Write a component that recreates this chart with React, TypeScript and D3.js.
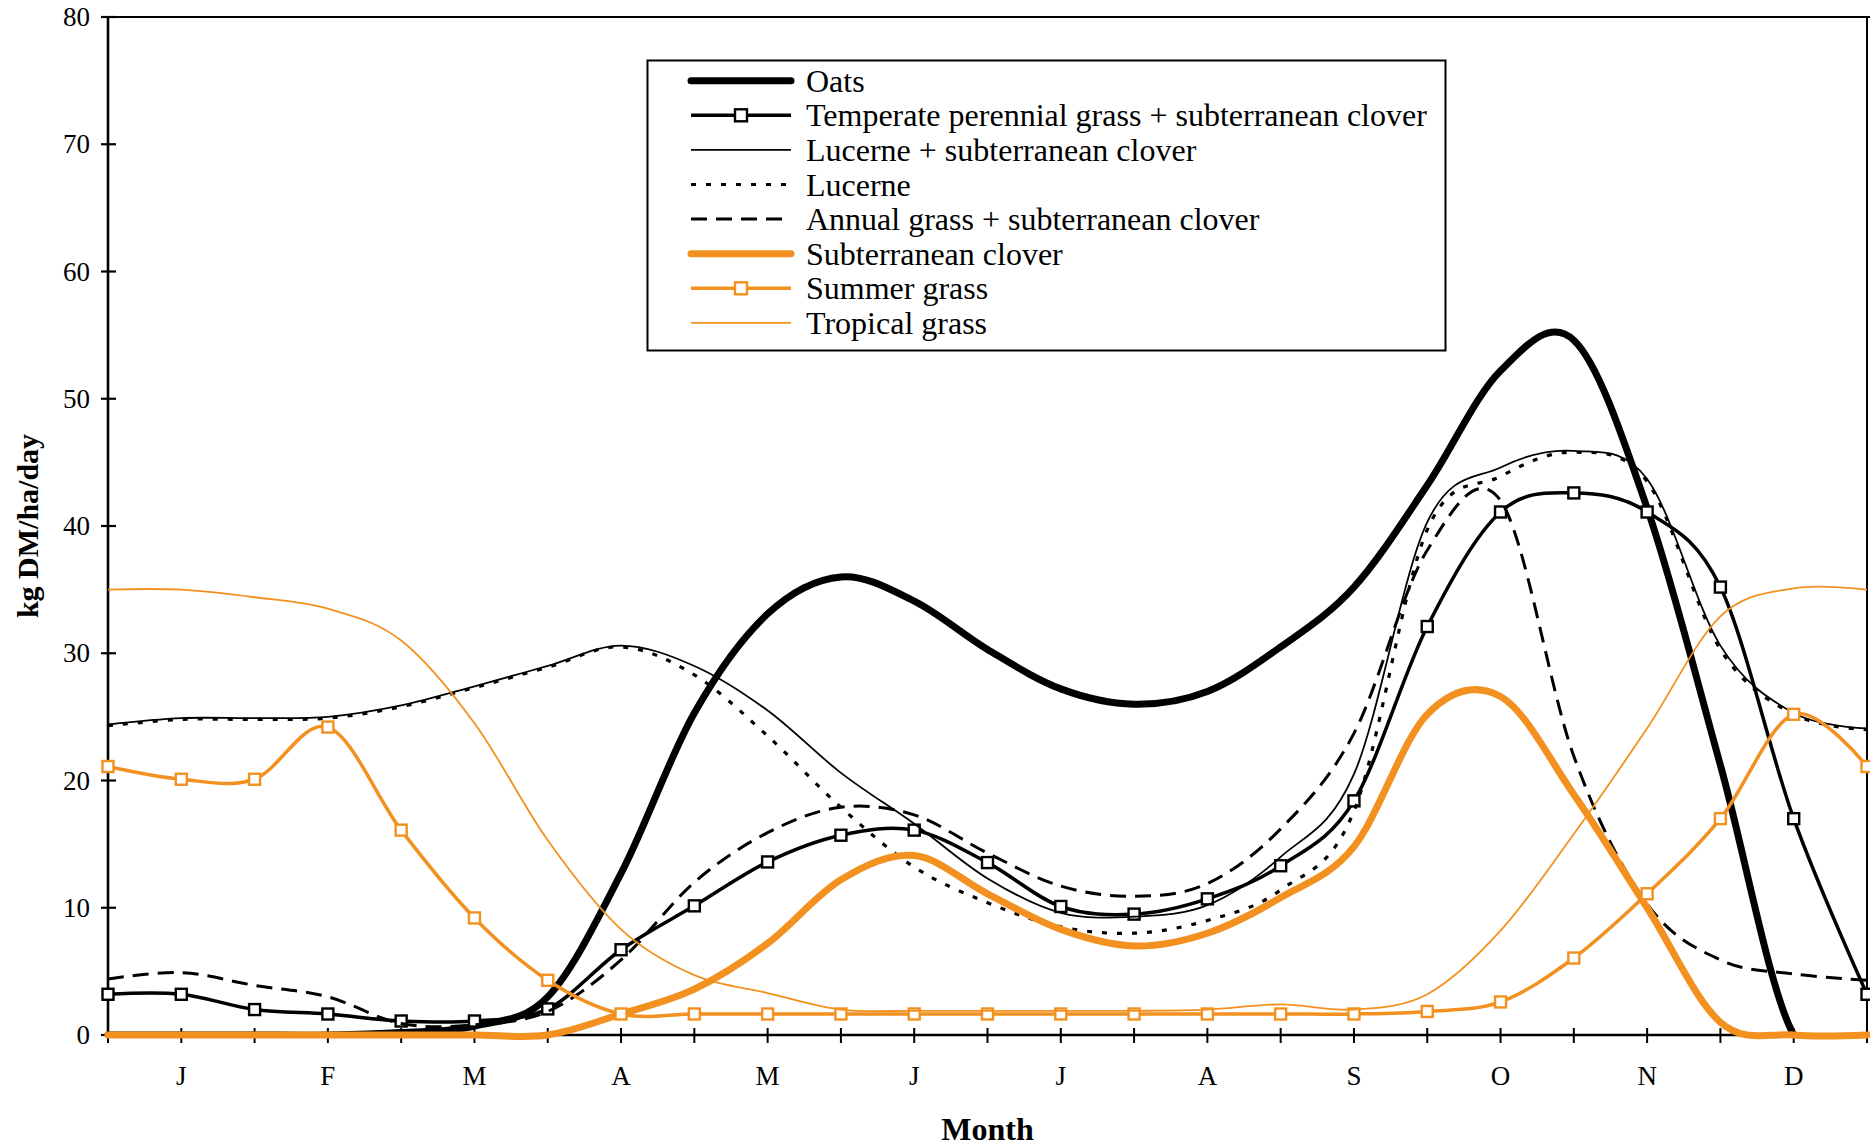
import React from "react";
import * as d3 from "d3";

// x positions: half-month steps, 0 = start of year, 24 = end of year
const monthLabels = ["J", "F", "M", "A", "M", "J", "J", "A", "S", "O", "N", "D"];
const yTicks = [0, 10, 20, 30, 40, 50, 60, 70, 80];

const oats = [0, 0, 0, 0, 0.2, 0.7, 3.0, 12.7, 25.3, 33.1, 36.0, 34.1, 30.3, 27.2, 26.0, 27.0, 30.5, 35.2, 43.2, 52.2, 54.6, 41.4, 21.2, 0, 0];
const temperate = [3.2, 3.2, 2.0, 1.65, 1.1, 1.1, 2.05, 6.7, 10.15, 13.6, 15.7, 16.1, 13.55, 10.1, 9.5, 10.7, 13.3, 18.4, 32.1, 41.1, 42.6, 41.1, 35.2, 17.0, 3.2];
const lucerneSub = [24.4, 24.9, 24.9, 25.0, 25.9, 27.4, 29.0, 30.6, 29.0, 25.5, 20.6, 16.6, 12.3, 9.6, 9.3, 10.2, 14.0, 20.5, 40.3, 44.6, 45.9, 43.7, 30.6, 25.3, 24.1];
const lucerne = [24.3, 24.8, 24.8, 24.9, 25.8, 27.3, 28.9, 30.5, 28.3, 23.5, 17.9, 13.2, 10.4, 8.5, 8.0, 9.0, 11.4, 17.6, 39.7, 43.9, 45.8, 43.5, 30.3, 25.2, 24.0];
const annualSub = [4.4, 4.9, 3.9, 3.0, 0.9, 0.8, 1.85, 5.9, 12.0, 15.9, 17.9, 17.3, 14.3, 11.7, 10.9, 11.9, 16.2, 23.7, 38.1, 42.0, 21.9, 10.3, 5.9, 4.8, 4.3];
const subClover = [0, 0, 0, 0, 0, 0, 0, 1.65, 3.6, 7.2, 12.2, 14.1, 11.1, 8.3, 7.0, 8.0, 10.8, 14.8, 25.2, 26.6, 18.9, 10.0, 1.0, 0, 0];
const summerGrass = [21.1, 20.1, 20.1, 24.2, 16.1, 9.2, 4.3, 1.65, 1.65, 1.65, 1.65, 1.65, 1.65, 1.65, 1.65, 1.65, 1.65, 1.65, 1.85, 2.6, 6.05, 11.1, 17.0, 25.2, 21.1];
const tropicalGrass = [35.0, 35.0, 34.4, 33.5, 31.0, 24.5, 15.3, 8.3, 4.7, 3.3, 2.0, 1.9, 1.9, 1.9, 1.9, 2.0, 2.4, 2.0, 3.2, 8.2, 15.8, 24.1, 32.9, 35.1, 35.0];

const seriesNames = [
  "Oats",
  "Temperate perennial grass + subterranean clover",
  "Lucerne + subterranean clover",
  "Lucerne",
  "Annual grass + subterranean clover",
  "Subterranean clover",
  "Summer grass",
  "Tropical grass",
];

const ORANGE = "#F39120";

type Style = { color: string; width: number; dash?: string; marker?: boolean; cap?: string; clip?: boolean };
const styles: Style[] = [
  { color: "#000", width: 7, cap: "round", clip: true },
  { color: "#000", width: 3.5, marker: true },
  { color: "#000", width: 1.8 },
  { color: "#000", width: 3.2, dash: "5,10" },
  { color: "#000", width: 3, dash: "16,9" },
  { color: ORANGE, width: 7, cap: "round" },
  { color: ORANGE, width: 3.5, marker: true },
  { color: ORANGE, width: 1.8 },
];

const seriesData = [oats, temperate, lucerneSub, lucerne, annualSub, subClover, summerGrass, tropicalGrass];

const W = 1870;
const H = 1148;
const X0 = 108;
const X1 = 1867;
const Y0 = 1035;
const Y1 = 17;

export default function App() {
  const x = d3.scaleLinear().domain([0, 24]).range([X0, X1]);
  const y = d3.scaleLinear().domain([0, 80]).range([Y0, Y1]);
  const line = d3
    .line<number>()
    .x((_, i) => x(i))
    .y((d) => y(d))
    .curve(d3.curveCardinal.tension(0));

  const font = "'Liberation Serif', 'Times New Roman', serif";
  const idx = d3.range(25);

  const legX0 = 647.5;
  const legY0 = 60.5;
  const legW = 798;
  const legH = 290;
  const rowY = (k: number) => 80.7 + 34.6 * k;
  const ms = 11;

  return (
    <svg width={W} height={H} style={{ position: "absolute", left: 0, top: 0, background: "#fff" }} fontFamily={font}>
      <defs>
        <clipPath id="abovezero">
          <rect x={0} y={0} width={W} height={Y0} />
        </clipPath>
      </defs>
      <rect x={0} y={0} width={W} height={H} fill="#fff" />
      {/* plot frame */}
      <line x1={X0} x2={X1 + 3} y1={Y1} y2={Y1} stroke="#000" strokeWidth={2} />
      <line x1={X1} x2={X1} y1={Y1} y2={Y0} stroke="#000" strokeWidth={2} />
      {/* y axis */}
      <line x1={X0} x2={X0} y1={Y1 - 1} y2={Y0 + 1} stroke="#000" strokeWidth={2.6} />
      {yTicks.map((t) => (
        <g key={t}>
          <line x1={X0 - 7} x2={X0 + 8} y1={y(t)} y2={y(t)} stroke="#000" strokeWidth={2.2} />
          <text x={X0 - 18} y={y(t)} dy="0.34em" textAnchor="end" fontSize={27}>
            {t}
          </text>
        </g>
      ))}
      {/* x axis */}
      <line x1={X0} x2={X1} y1={Y0} y2={Y0} stroke="#000" strokeWidth={2.6} />
      {idx.map((i) => (
        <line key={i} x1={x(i)} x2={x(i)} y1={Y0 - 7} y2={Y0 + 8} stroke="#000" strokeWidth={2} />
      ))}
      {monthLabels.map((m, k) => (
        <text key={k} x={x(2 * k + 1)} y={1085} textAnchor="middle" fontSize={27}>
          {m}
        </text>
      ))}
      <text x={(X0 + X1) / 2} y={1140} textAnchor="middle" fontSize={32} fontWeight="bold">
        Month
      </text>
      <text
        transform={`translate(38, ${(Y0 + Y1) / 2}) rotate(-90)`}
        textAnchor="middle"
        fontSize={30}
        fontWeight="bold"
      >
        kg DM/ha/day
      </text>

      {/* series */}
      {seriesData.map((data, s) => {
        const st = styles[s];
        return (
          <g key={s}>
            <path
              d={line(data) || ""}
              fill="none"
              stroke={st.color}
              strokeWidth={st.width}
              strokeDasharray={st.dash}
              strokeLinejoin="round"
              strokeLinecap={(st.cap as any) || "butt"}
              clipPath={st.clip ? "url(#abovezero)" : undefined}
            />
            {st.marker &&
              data.map((v, i) => (
                <rect
                  key={i}
                  x={x(i) - ms / 2}
                  y={y(v) - ms / 2}
                  width={ms}
                  height={ms}
                  fill="#fff"
                  stroke={st.color}
                  strokeWidth={2.4}
                />
              ))}
          </g>
        );
      })}

      {/* legend */}
      <rect x={legX0} y={legY0} width={legW} height={legH} fill="#fff" stroke="#000" strokeWidth={2} />
      {seriesNames.map((name, k) => {
        const st = styles[k];
        const cy = rowY(k);
        return (
          <g key={name}>
            <line
              x1={691}
              x2={791}
              y1={cy}
              y2={cy}
              stroke={st.color}
              strokeWidth={st.width}
              strokeDasharray={st.dash}
              strokeLinecap={(st.cap as any) || "butt"}
            />
            {st.marker && (
              <rect x={741 - 6} y={cy - 6} width={12} height={12} fill="#fff" stroke={st.color} strokeWidth={2.4} />
            )}
            <text x={806} y={cy + 11} fontSize={32}>
              {name}
            </text>
          </g>
        );
      })}
    </svg>
  );
}
